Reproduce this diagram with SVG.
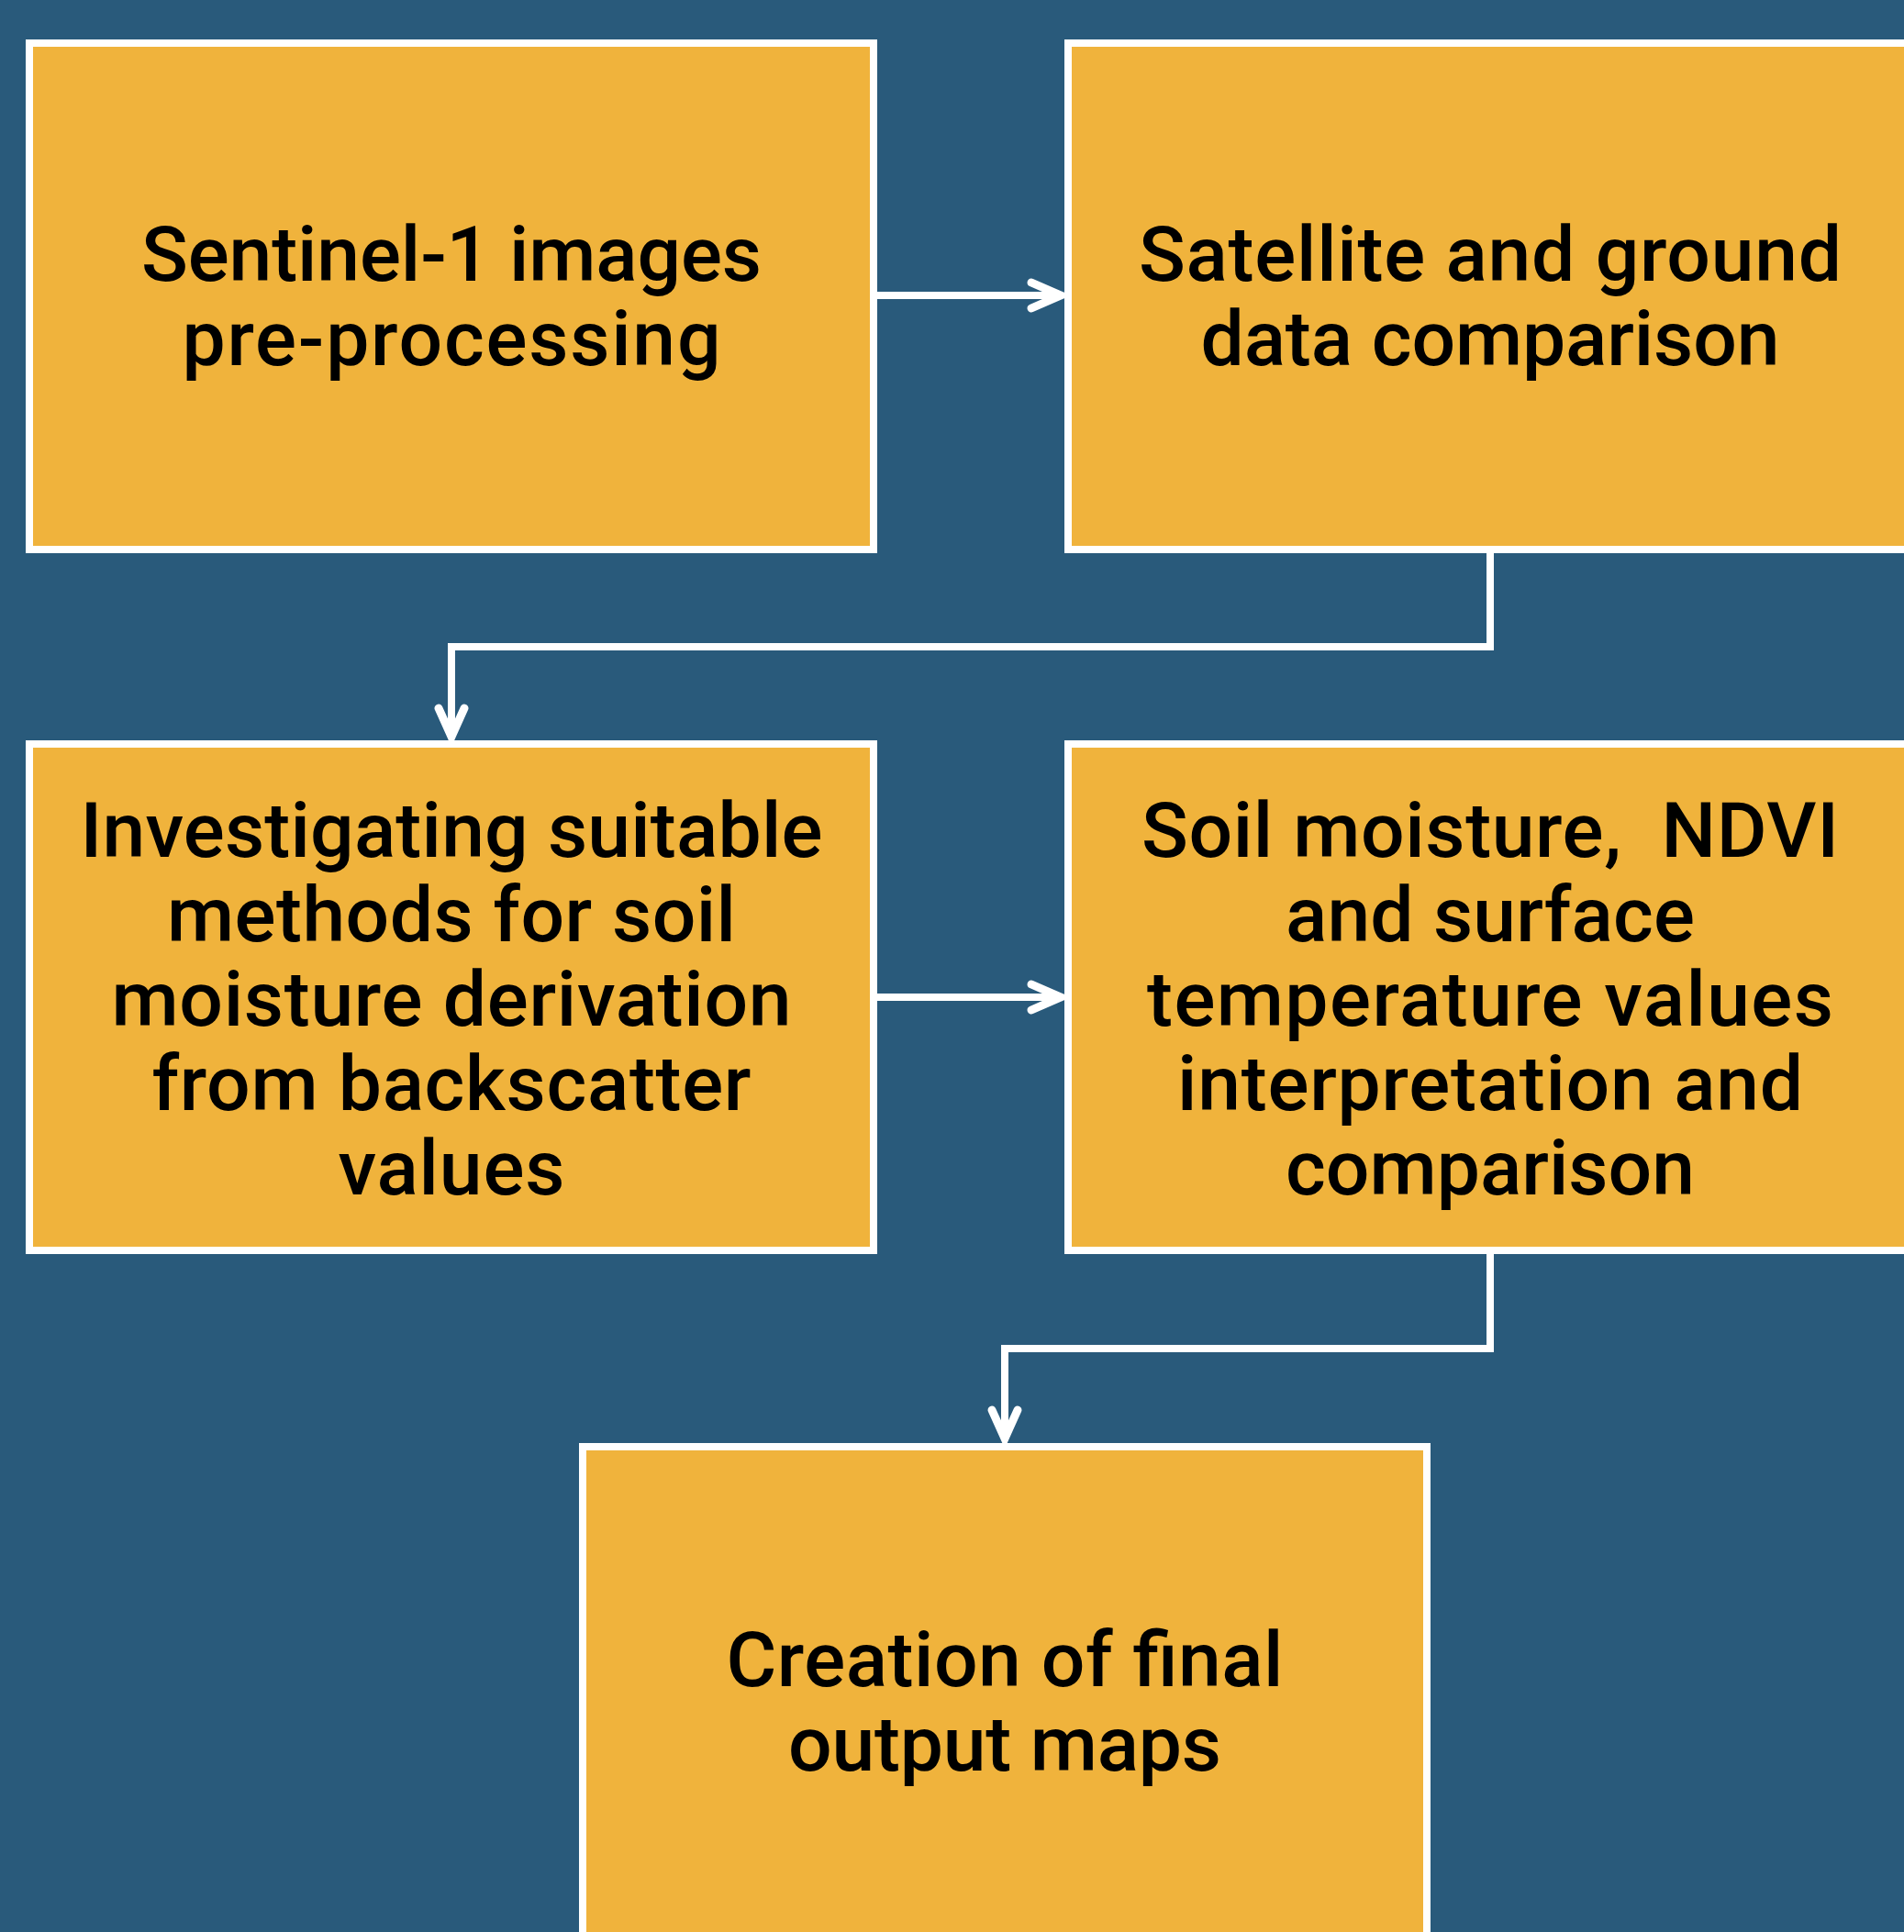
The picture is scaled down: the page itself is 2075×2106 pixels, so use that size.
<svg xmlns="http://www.w3.org/2000/svg" width="2075" height="2106" viewBox="0 0 2075 2106">
<defs>
<style>
.bg{fill:#295a7b}
.box{fill:#f0b33c;stroke:#ffffff;stroke-width:8}
.t{font-family:Roboto,"Liberation Sans",sans-serif;font-weight:500;font-size:84px;fill:#000;text-anchor:middle;white-space:pre}
.c{fill:none;stroke:#ffffff;stroke-width:8}
.h{fill:none;stroke:#ffffff;stroke-width:9;stroke-linecap:round;stroke-linejoin:miter}
</style>
</defs>
<rect class="bg" x="0" y="0" width="2075" height="2106"/>
<g id="n1">
<rect class="box" x="32" y="47" width="920" height="552"/>
<text class="t" x="492" y="306" textLength="676" lengthAdjust="spacing">Sentinel-1 images</text>
<text class="t" x="492" y="398" textLength="587" lengthAdjust="spacing">pre-processing</text>
</g>
<g id="n2">
<rect class="box" x="1164" y="47" width="920" height="552"/>
<text class="t" x="1624" y="306" textLength="766" lengthAdjust="spacing">Satellite and ground</text>
<text class="t" x="1624" y="398" textLength="631" lengthAdjust="spacing">data comparison</text>
</g>
<g id="n3">
<rect class="box" x="32" y="811" width="920" height="552"/>
<text class="t" x="492" y="934" textLength="809" lengthAdjust="spacing">Investigating suitable</text>
<text class="t" x="492" y="1026" textLength="620" lengthAdjust="spacing">methods for soil</text>
<text class="t" x="492" y="1118" textLength="741" lengthAdjust="spacing">moisture derivation</text>
<text class="t" x="492" y="1210" textLength="653" lengthAdjust="spacing">from backscatter</text>
<text class="t" x="492" y="1302" textLength="247" lengthAdjust="spacing">values</text>
</g>
<g id="n4">
<rect class="box" x="1164" y="811" width="920" height="552"/>
<text class="t" x="1624" y="934" textLength="760" lengthAdjust="spacing">Soil moisture,  NDVI</text>
<text class="t" x="1624" y="1026" textLength="446" lengthAdjust="spacing">and surface</text>
<text class="t" x="1624" y="1118" textLength="748" lengthAdjust="spacing">temperature values</text>
<text class="t" x="1624" y="1210" textLength="682" lengthAdjust="spacing">interpretation and</text>
<text class="t" x="1624" y="1302" textLength="446" lengthAdjust="spacing">comparison</text>
</g>
<g id="n5">
<rect class="box" x="635" y="1577" width="920" height="552"/>
<text class="t" x="1095" y="1838" textLength="607" lengthAdjust="spacing">Creation of final</text>
<text class="t" x="1095" y="1930" textLength="472" lengthAdjust="spacing">output maps</text>
</g>
<g id="connectors">
<path class="c" d="M956 322 H1155"/>
<path class="h" d="M1124 308 L1156 322 L1124 336"/>
<path class="c" d="M1624 603 V705 H492 V801"/>
<path class="h" d="M478 772 L492 803 L506 772"/>
<path class="c" d="M956 1087 H1155"/>
<path class="h" d="M1124 1073 L1156 1087 L1124 1101"/>
<path class="c" d="M1624 1367 V1470 H1095 V1566"/>
<path class="h" d="M1081 1537 L1095 1568 L1109 1537"/>
</g>
</svg>
